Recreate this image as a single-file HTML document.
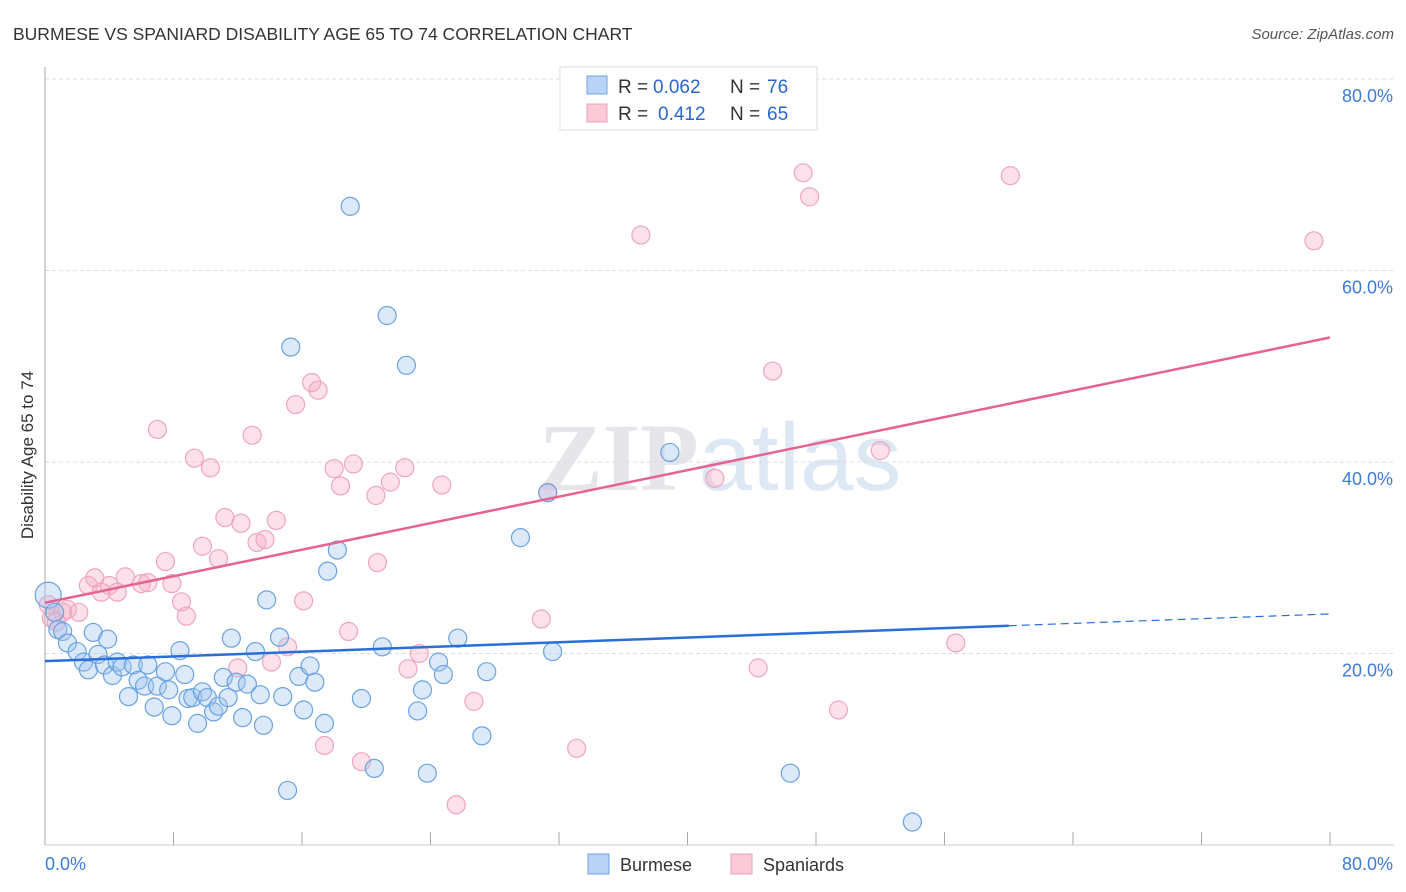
<!DOCTYPE html>
<html><head><meta charset="utf-8"><style>
body{margin:0;background:#fff;font-family:"Liberation Sans",sans-serif;}
svg{display:block}
</style></head><body>
<svg id="chart" width="1406" height="892" xmlns="http://www.w3.org/2000/svg" font-family="Liberation Sans, sans-serif">
<text x="13" y="40" font-size="17.5" fill="#333">BURMESE VS SPANIARD DISABILITY AGE 65 TO 74 CORRELATION CHART</text>
<text x="1394" y="39" font-size="15" fill="#555" font-style="italic" text-anchor="end">Source: ZipAtlas.com</text>
<text x="720" y="490" font-size="96" fill="#e6e6ea" text-anchor="middle" font-family="Liberation Serif, serif" font-weight="bold">ZIP<tspan fill="#dde8f5" font-family="Liberation Sans, sans-serif" font-weight="normal">atlas</tspan></text>
<g id="grid"></g>
<g id="axes"></g>
<g id="marks"></g>
<text transform="translate(33,455) rotate(-90)" font-size="17" fill="#333" text-anchor="middle">Disability Age 65 to 74</text>
<g font-size="19">
<rect x="560" y="67" width="257" height="63" fill="#fff" stroke="#ddd"/>
<rect x="587" y="76" width="20" height="18" fill="#b8d3f5" stroke="#6fa3e3"/>
<rect x="587" y="104" width="20" height="18" fill="#fbc9d7" stroke="#eea0b8"/>
<text x="618" y="93" fill="#333">R =</text><text x="653" y="93" fill="#2a66d0">0.062</text>
<text x="730" y="93" fill="#333">N =</text><text x="767" y="93" fill="#2a66d0">76</text>
<text x="618" y="120" fill="#333">R =</text><text x="658" y="120" fill="#2a66d0">0.412</text>
<text x="730" y="120" fill="#333">N =</text><text x="767" y="120" fill="#2a66d0">65</text>
</g>
<g>
<rect x="588" y="854" width="21" height="20" fill="#b8d3f5" stroke="#6fa3e3"/>
<text x="620" y="871" font-size="18" fill="#333">Burmese</text>
<rect x="731" y="854" width="21" height="20" fill="#fbc9d7" stroke="#eea0b8"/>
<text x="763" y="871" font-size="18" fill="#333">Spaniards</text>
</g>
</svg>
<script>
const yTicks=[20,40,60,80];
const yTickLabels=["20.0%","40.0%","60.0%","80.0%"];
const xTicks=[0,8,16,24,32,40,48,56,64,72,80];
const burmeseX=[0.2,0.6,0.8,1.1,1.4,2.0,2.4,2.7,3.0,3.3,3.9,3.7,4.2,4.5,4.8,5.2,5.5,5.8,6.4,6.2,6.8,7.0,7.5,7.7,7.9,8.4,8.7,8.9,9.2,9.5,9.8,10.1,10.5,10.8,11.4,11.1,11.6,11.9,12.3,12.6,13.1,13.4,13.6,13.8,14.6,14.8,15.1,15.3,15.8,16.1,16.5,16.8,17.4,17.6,18.2,19.0,19.7,20.5,21.0,21.3,22.5,23.2,23.5,23.8,24.5,24.8,25.7,27.2,27.5,29.6,31.3,31.6,38.9,46.4,54.0];
const burmeseY=[26.1,24.3,22.5,22.3,21.1,20.2,19.1,18.3,22.2,19.9,21.5,18.8,17.7,19.1,18.6,15.5,18.8,17.2,18.8,16.6,14.4,16.6,18.1,16.2,13.5,20.3,17.8,15.3,15.4,12.7,16.0,15.4,13.9,14.5,15.4,17.5,21.6,17.0,13.3,16.8,20.2,15.7,12.5,25.6,21.7,15.5,5.7,52.0,17.6,14.1,18.7,17.0,12.7,28.6,30.8,66.7,15.3,8.0,20.7,55.3,50.1,14.0,16.2,7.5,19.1,17.8,21.6,11.4,18.1,32.1,36.8,20.2,41.0,7.5,2.4];
const spanX=[0.2,0.4,0.7,1.1,1.4,2.1,2.7,3.1,3.5,4.0,4.5,5.0,6.0,6.4,7.0,7.5,7.9,8.5,8.8,9.3,9.8,10.3,10.8,11.2,12.0,12.2,12.9,13.2,13.7,14.1,14.4,15.1,15.6,16.1,16.6,17.0,17.4,18.0,18.4,18.9,19.2,19.7,20.6,20.7,21.5,22.4,22.6,23.3,24.7,25.6,26.7,30.9,31.3,33.1,37.1,41.7,44.4,45.3,47.2,47.6,49.4,52.0,56.7,60.1,79.0];
const spanY=[25.1,23.7,23.3,24.3,24.6,24.3,27.1,27.9,26.4,27.1,26.4,28.0,27.3,27.4,43.4,29.6,27.3,25.4,23.9,40.4,31.2,39.4,29.9,34.2,18.5,33.6,42.8,31.6,31.9,19.1,33.9,20.7,46.0,25.5,48.3,47.5,10.4,39.3,37.5,22.3,39.8,8.7,36.5,29.5,37.9,39.4,18.4,20.0,37.6,4.2,15.0,23.6,36.8,10.1,63.7,38.3,18.5,49.5,70.2,67.7,14.1,41.2,21.1,69.9,63.1];
const burmeseTrend=[19.2,22.9]; // at x=0 and x=60
const spanTrend=[25.3,53.0];   // at x=0 and x=80
const NS="http://www.w3.org/2000/svg";
const X=v=>45+v*(1285/80);
const Y=v=>845-v*(766/80);
function mk(tag,attrs,parent){const e=document.createElementNS(NS,tag);for(const k in attrs)e.setAttribute(k,attrs[k]);parent.appendChild(e);return e;}
const grid=document.getElementById('grid'),axes=document.getElementById('axes'),marks=document.getElementById('marks');
yTicks.forEach((t,i)=>{
 const l=mk('line',{x1:45,x2:1394,y1:Y(t),y2:Y(t),stroke:'#ddd','stroke-dasharray':'4,3'},grid);
 
 
 const tx=mk('text',{x:1393,y:Y(t)+23,'font-size':18,fill:'#3d7bd9','text-anchor':'end'},axes);
 tx.textContent=yTickLabels[i];
 
 
});
const ax=mk('line',{x1:45,x2:45,y1:67,y2:845,stroke:'#aaa'},axes);


const bx=mk('line',{x1:45,x2:1394,y1:845,y2:845,stroke:'#ccc'},axes);


xTicks.forEach(t=>{
 const l=mk('line',{x1:X(t),x2:X(t),y1:832,y2:845,stroke:'#aaa'},axes);
 
 
});
const xl0=mk('text',{x:45,y:870,'font-size':18,fill:'#3d7bd9'},axes);xl0.textContent='0.0%';


const xl1=mk('text',{x:1393,y:870,'font-size':18,fill:'#3d7bd9','text-anchor':'end'},axes);xl1.textContent='80.0%';


spanX.forEach((x,i)=>{
 const c=mk('circle',{cx:X(x),cy:Y(spanY[i]),r:9,fill:'rgba(246,170,196,0.35)',stroke:'#efa5bd','stroke-width':1.2},marks);
 
 
});
burmeseX.forEach((x,i)=>{
 const c=mk('circle',{cx:X(x),cy:Y(burmeseY[i]),r:i==0?13:9,fill:'rgba(160,196,240,0.38)',stroke:'#6aa2e2','stroke-width':1.2},marks);
 
 
});
const slope=(burmeseTrend[1]-burmeseTrend[0])/60;
const bl=mk('line',{x1:X(0),y1:Y(burmeseTrend[0]),x2:X(60),y2:Y(burmeseTrend[1]),stroke:'#2a6fd8','stroke-width':2.5},marks);


const bd=mk('line',{x1:X(60),y1:Y(burmeseTrend[1]),x2:X(80),y2:Y(burmeseTrend[0]+slope*80),stroke:'#2a6fd8','stroke-width':1.2,'stroke-dasharray':'8,5'},marks);


const sl=mk('line',{x1:X(0),y1:Y(spanTrend[0]),x2:X(80),y2:Y(spanTrend[1]),stroke:'#e6638f','stroke-width':2.5},marks);


</script>
</body></html>
